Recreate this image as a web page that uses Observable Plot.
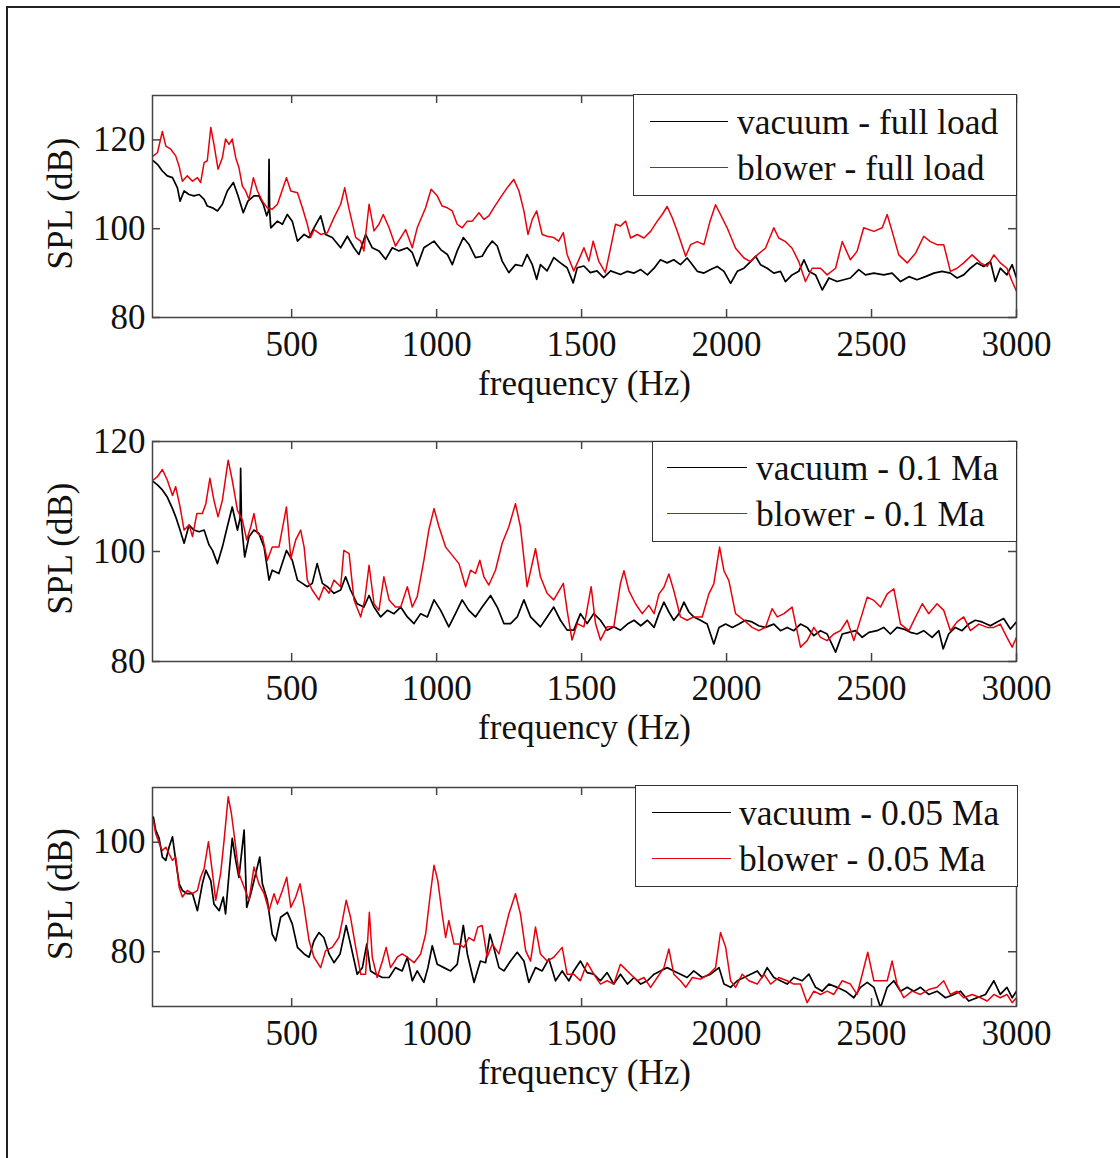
<!DOCTYPE html>
<html>
<head>
<meta charset="utf-8">
<script src="https://cdn.jsdelivr.net/npm/d3@7"></script>
<script src="https://cdn.jsdelivr.net/npm/@observablehq/plot@0.6"></script>
<style>
  html, body { margin: 0; padding: 0; background: #fff; }
  #fig { position: relative; width: 1120px; height: 1158px; overflow: hidden; background: #fff;
         font-family: "Liberation Serif", "Times New Roman", serif; }
  #border { position: absolute; left: 6px; top: 6px; width: 1200px; height: 1300px;
            border-left: 2.5px solid #222; border-top: 2.5px solid #222; }
  .panel { position: absolute; left: 0; }
  .legend { position: absolute; background: #fff; border: 1.5px solid #333; box-sizing: border-box; }
  .legend .ln { position: absolute; height: 0; border-top: 1.5px solid #000; }
  .legend .tx { position: absolute; font-size: 35.5px; line-height: 36px; white-space: pre; color: #111; }
</style>
</head>
<body>
<div id="fig"><div id="border"></div></div>
<script>
// ---------- data (frequency Hz, SPL dB) ----------
const xTicks = [500, 1000, 1500, 2000, 2500, 3000];
const xLabel = "frequency (Hz)";
const yLabel = "SPL (dB)";

// Panel 1 : full load
const p1Ticks = [80, 100, 120];
const p1Labels = ["vacuum - full load", "blower - full load"];
const vacuumFull = [[23,115.3],[37,114.5],[54,113],[71,111.9],[89,111.5],[106,109.2],[115,106.2],[129,108.5],[146,107.7],[163,107.4],[181,107.7],[198,106.6],[209,105.1],[227,104.7],[244,104],[261,105.5],[278,108.5],[299,110.4],[315,107.4],[333,103.6],[349,106.2],[370,107.4],[387,107.4],[402,105.5],[414,102.9],[420,104],[422,115.6],[424,104],[428,100.2],[451,101.7],[468,101],[485,103.2],[502,101.7],[520,97.2],[543,98.7],[560,98],[577,100.2],[600,102.9],[617,98.7],[640,98],[669,95.7],[692,98.3],[715,95.7],[732,94.2],[755,98.7],[778,95.7],[801,95],[824,93.1],[847,95.7],[870,95],[899,95.7],[916,94.6],[933,91.6],[956,95.7],[991,97.2],[1014,95.3],[1037,94.2],[1054,91.9],[1071,95],[1092,98],[1111,96.5],[1134,93.5],[1157,93.8],[1174,95.7],[1192,97.2],[1209,96.1],[1226,92.7],[1249,90.1],[1272,91.9],[1295,91.6],[1312,94.2],[1330,91.9],[1345,88.6],[1358,91.9],[1381,90.5],[1404,93.5],[1427,92.3],[1450,91.2],[1471,87.8],[1485,91.2],[1508,91.6],[1530,90.1],[1553,90.5],[1576,89],[1600,90.5],[1634,89.7],[1658,90.4],[1681,90],[1704,90.8],[1727,89.6],[1750,91.1],[1772,93],[1795,92.3],[1818,93],[1841,91.9],[1864,93.4],[1882,91.9],[1899,90.4],[1922,90],[1945,90.8],[1968,91.5],[1991,90.4],[2014,87.7],[2037,90.4],[2060,91.1],[2083,92.6],[2100,93.8],[2117,91.9],[2140,91.1],[2163,90],[2186,90.4],[2203,88.1],[2226,89.6],[2249,90.4],[2267,93],[2284,90.4],[2307,89.6],[2330,86.2],[2353,88.9],[2381,88.1],[2404,88.5],[2427,88.9],[2456,90.8],[2479,89.6],[2508,90],[2542,89.6],[2571,90],[2600,88.1],[2629,89.2],[2657,88.5],[2686,89.2],[2715,90],[2743,90.4],[2772,90],[2795,88.9],[2818,89.6],[2841,91.1],[2864,92.3],[2887,91.5],[2910,92.6],[2927,88.1],[2944,91.1],[2967,89.6],[2985,91.9],[3000,88.9]];
const blowerFull = [[23,116.4],[37,117.1],[54,121.9],[66,118.6],[83,117.9],[100,116.4],[112,114],[123,110.7],[140,111.9],[158,110.7],[175,111.5],[186,110.4],[198,114.9],[209,115.3],[221,122.8],[232,119],[246,113.4],[261,116],[272,120.2],[284,119],[295,120.2],[307,116],[318,113.8],[330,109.6],[341,108.5],[353,106.6],[368,111.5],[382,108.5],[399,106.2],[416,104.7],[433,104.4],[451,105.5],[482,111.5],[497,108.5],[520,108.1],[537,104.7],[554,101],[565,98],[577,99.8],[600,98.7],[623,99.1],[646,102.5],[669,105.5],[683,109.2],[698,104.4],[721,98],[738,97.2],[749,95],[767,105.5],[784,99.5],[801,101],[816,103.2],[836,100.2],[858,96.1],[876,98],[893,99.8],[916,95.7],[933,100.2],[962,104.7],[981,108.9],[1002,107.4],[1019,105.1],[1037,104.7],[1054,104],[1071,101],[1088,100.2],[1106,101.7],[1123,101.7],[1146,103.6],[1163,102.1],[1180,102.9],[1197,104.7],[1220,107],[1243,109.2],[1266,111.1],[1284,108.5],[1301,104],[1315,98.7],[1330,102.1],[1345,104],[1364,98.7],[1381,98.3],[1404,98],[1421,97.2],[1437,99.1],[1450,94.2],[1473,90.5],[1491,93.1],[1508,95.7],[1525,92.7],[1540,97.2],[1559,92.7],[1582,90.1],[1600,95.7],[1617,101],[1634,100.6],[1652,101.7],[1669,97.9],[1692,98.7],[1715,97.9],[1738,99.4],[1761,101.7],[1778,103.2],[1795,105],[1813,102.4],[1830,99.4],[1859,93.8],[1876,96.4],[1899,97.1],[1922,96.4],[1943,101.7],[1962,105.4],[1979,103.2],[2002,100.2],[2031,95.6],[2060,93.4],[2083,92.6],[2106,94.1],[2134,95.6],[2163,100.2],[2180,97.9],[2203,97.1],[2226,95.6],[2249,92.6],[2272,88.1],[2295,91.1],[2324,91.1],[2347,89.6],[2376,91.1],[2399,97.1],[2427,93],[2450,94.9],[2473,100.2],[2508,99.4],[2537,100.2],[2554,103.2],[2571,99.4],[2594,94.1],[2623,92.3],[2652,94.5],[2680,98.3],[2703,97.1],[2726,96.4],[2749,96.4],[2772,90.4],[2795,91.1],[2818,92.3],[2847,94.1],[2876,92.3],[2899,91.5],[2922,94.1],[2944,92.3],[2967,91.1],[2985,88.1],[3000,85.9]];

// Panel 2 : 0.1 Ma
const p2Ticks = [80, 100, 120];
const p2Labels = ["vacuum - 0.1 Ma", "blower - 0.1 Ma"];
const vacuum01 = [[23,112.7],[37,112.1],[54,111.2],[71,109.9],[89,107.8],[100,106.3],[115,103.9],[129,101.5],[146,104.8],[163,103.9],[181,103.6],[198,103.9],[215,101.2],[227,100.2],[244,97.8],[261,100.8],[278,104.5],[295,108.1],[313,103.9],[322,106],[324,115.1],[327,105],[338,99],[353,102.7],[370,103.9],[387,103.3],[405,100.8],[422,94.8],[433,96.6],[456,96],[482,100.2],[502,98.4],[520,94.8],[537,94.2],[554,93.6],[571,94.2],[588,97.8],[606,94.2],[623,93.6],[646,92.4],[669,93],[686,95.4],[703,93],[726,90.5],[749,89.9],[767,92],[784,89.9],[807,88.1],[830,89.3],[853,88.7],[876,89.9],[899,88.1],[922,86.9],[945,88.7],[968,88.1],[991,91.2],[1014,89.3],[1042,86.3],[1065,88.7],[1088,91.2],[1111,89.3],[1134,88.1],[1157,89.9],[1186,92],[1209,89.9],[1232,86.9],[1255,86.9],[1278,88.1],[1301,91.2],[1324,88.1],[1358,86.3],[1381,88.1],[1404,89.9],[1427,87.5],[1450,85.7],[1473,85.7],[1496,88.7],[1519,86.9],[1542,88.7],[1565,87.5],[1588,85.7],[1611,86.3],[1634,85.7],[1658,86.8],[1681,87.5],[1704,86.5],[1727,87.5],[1750,86.2],[1767,88.7],[1784,90.8],[1801,89],[1818,87.5],[1836,88.7],[1853,90.8],[1870,89],[1887,88.1],[1910,87.5],[1933,86.8],[1956,83.2],[1974,86.2],[1997,86.8],[2020,86.2],[2043,86.8],[2065,87.5],[2088,87.2],[2111,86.5],[2134,86.2],[2163,86.8],[2186,85.6],[2209,86.2],[2232,85.6],[2255,86.8],[2278,86.2],[2301,84.7],[2324,85.6],[2347,85],[2376,81.7],[2399,85],[2422,85.3],[2445,85.6],[2468,84.4],[2491,85.3],[2519,85.6],[2542,86.2],[2565,85],[2588,86.2],[2611,85.9],[2634,85.3],[2657,85],[2680,85.6],[2709,84.4],[2732,85.6],[2747,82.3],[2766,85],[2789,86.2],[2812,85.6],[2835,86.8],[2858,87.5],[2881,87.2],[2910,86.5],[2933,87.2],[2956,87.8],[2979,85.9],[3000,87.2]];
const blower01 = [[23,113],[37,113.6],[54,114.9],[71,113],[89,110.2],[100,111.8],[115,108.1],[129,103.9],[146,104.8],[158,102.7],[173,106.9],[192,106.9],[204,108.7],[218,113.3],[232,109.3],[246,106.3],[261,109.3],[281,116.6],[295,113],[313,107.5],[330,105.7],[345,102.1],[359,104.5],[370,106.9],[382,103.3],[399,102.7],[416,98.4],[433,100.8],[456,100.8],[482,108.1],[497,98.7],[514,102.1],[531,103.9],[543,100.8],[554,94.8],[571,93],[594,91.2],[611,93.6],[629,92.4],[646,94.8],[669,93.6],[680,100.2],[698,99.6],[715,91.2],[738,88.1],[752,91.2],[767,97.5],[784,90.5],[801,89.3],[818,95.4],[836,91.2],[858,89.9],[876,89.9],[899,93.6],[916,89.9],[933,91.8],[956,98.4],[973,103.9],[991,107.8],[1008,104.5],[1031,100.8],[1054,99.3],[1077,97.8],[1100,93.6],[1117,96.6],[1134,96],[1149,98.4],[1163,95.4],[1180,93.9],[1203,96.6],[1226,101.5],[1249,104.5],[1272,108.7],[1289,104.5],[1312,93.6],[1341,100.5],[1358,95.4],[1381,92.4],[1404,91.2],[1437,94.2],[1450,89.3],[1467,83.9],[1485,86.9],[1508,86.3],[1533,93.6],[1548,86.9],[1565,83.9],[1588,86.3],[1611,86.3],[1634,94.2],[1646,96.5],[1663,92.9],[1686,90.5],[1709,88.7],[1732,90.2],[1750,88.7],[1767,92.3],[1784,93.5],[1801,95.9],[1818,92.9],[1841,88.1],[1864,87.5],[1887,88.1],[1916,88.1],[1939,92.3],[1956,94.1],[1976,100.8],[1991,96.5],[2008,94.7],[2031,88.7],[2060,87.5],[2088,86.2],[2111,85.6],[2134,86.2],[2157,89.6],[2175,88.1],[2198,88.7],[2226,89.9],[2255,82.6],[2278,83.8],[2301,86.2],[2324,84.4],[2347,83.8],[2370,85],[2393,85.6],[2416,87.5],[2439,83.8],[2468,88.7],[2485,91.7],[2508,91.1],[2531,89.9],[2554,92.3],[2577,93.2],[2600,86.8],[2629,85.6],[2652,88.1],[2675,90.5],[2697,88.7],[2726,90.5],[2749,89.3],[2772,85.6],[2795,87.2],[2818,88.1],[2841,85.6],[2870,86.8],[2899,86.2],[2922,86.2],[2944,86.8],[2967,84.4],[2985,82.6],[3000,84.4]];

// Panel 3 : 0.05 Ma
const p3Ticks = [80, 100];
const p3Labels = ["vacuum - 0.05 Ma", "blower - 0.05 Ma"];
const vacuum005 = [[23,104.6],[31,102.2],[43,100.7],[54,97.3],[66,96.7],[77,99.1],[89,101],[100,96.7],[112,92.4],[123,91.2],[140,90.6],[158,90.6],[175,87.5],[192,92.4],[204,94.9],[221,93],[232,88.7],[250,87.5],[264,90],[272,86.9],[284,94.3],[295,100.7],[307,96.7],[318,93.6],[336,102.2],[345,88.1],[359,90.6],[376,94.3],[390,97.3],[399,92.4],[416,89.4],[433,83.2],[445,82],[462,86.3],[485,87.2],[502,85.1],[520,80.8],[543,79.6],[560,79],[577,82],[594,83.5],[611,82.6],[629,79.6],[646,78],[667,79.6],[688,84.8],[703,81.4],[726,75.9],[744,77.1],[759,81.4],[772,76.5],[790,75.9],[813,75.3],[836,75.3],[858,77.1],[881,76.5],[899,79],[916,74.7],[933,76.5],[956,74.4],[970,77.1],[985,81.1],[1002,77.7],[1025,77.1],[1048,76.5],[1071,77.7],[1092,84.8],[1106,79.6],[1129,74.4],[1151,78.3],[1169,78],[1184,83.2],[1197,80.8],[1215,77.1],[1232,76.5],[1255,78.3],[1278,79.9],[1301,78.3],[1318,74.4],[1341,77.1],[1364,76.5],[1387,78.7],[1410,74.7],[1433,76.5],[1456,74.7],[1473,76.5],[1496,78.3],[1519,76.2],[1542,75.9],[1565,74.7],[1588,76.2],[1611,74.1],[1634,75.9],[1658,74.1],[1681,75.3],[1704,74.1],[1727,74.7],[1750,75.9],[1772,76.5],[1795,77.1],[1818,76.5],[1841,75.9],[1864,75.3],[1887,76.5],[1916,75.3],[1945,75.9],[1974,77.1],[1991,74.1],[2014,73.5],[2037,74.7],[2060,75.3],[2083,75.9],[2106,76.5],[2123,75.3],[2140,77.1],[2163,75.3],[2186,74.7],[2209,74.1],[2232,75.3],[2261,74.7],[2284,75.9],[2307,73.5],[2330,72.8],[2353,74.1],[2381,73.5],[2410,72.8],[2439,71.6],[2462,73.5],[2485,74.4],[2508,73.5],[2531,69.8],[2554,73.5],[2577,74.7],[2600,72.8],[2623,73.5],[2646,72.8],[2669,73.5],[2697,72.2],[2726,72.8],[2755,71.6],[2784,72.2],[2807,72.8],[2835,71],[2864,71.6],[2893,72.2],[2922,74.7],[2944,72.2],[2967,73.5],[2985,71.6],[3000,72.8]];
const blower005 = [[23,104],[31,101.6],[43,99.8],[54,98.5],[66,99.1],[77,97.9],[89,96.7],[100,97.3],[112,91.8],[123,90],[140,91.2],[158,90.6],[175,91.2],[186,93.6],[198,95.2],[213,100.1],[227,94.3],[238,89.4],[255,94.3],[267,100.4],[281,108.3],[292,105.3],[304,100.4],[318,94.3],[336,91.8],[353,89.4],[370,95.5],[387,92.4],[405,90.6],[422,87.5],[439,90.6],[451,88.7],[468,91.2],[483,93.6],[497,88.1],[514,90],[529,92.4],[543,88.1],[560,82],[577,79],[600,77.1],[617,80.2],[640,80.8],[663,82.6],[675,85.7],[688,89.4],[703,86.3],[721,80.8],[738,75.9],[755,75.9],[768,87.2],[778,79],[795,75.3],[813,78.3],[826,80.8],[841,77.1],[864,79],[881,79.6],[899,79],[922,78],[945,79.6],[962,83.2],[977,90],[991,95.8],[1004,93],[1019,86.9],[1031,82.6],[1042,85.7],[1060,81.4],[1077,81.4],[1094,80.8],[1111,82.6],[1129,82],[1142,84.5],[1157,84.8],[1174,79],[1192,81.4],[1215,79.6],[1232,83.2],[1249,86.9],[1272,90.6],[1289,86.9],[1307,80.2],[1324,78.3],[1341,84.5],[1358,79.6],[1381,78.3],[1404,79],[1433,80.8],[1450,75.9],[1473,75.9],[1496,74.7],[1519,78],[1542,75.9],[1565,74.1],[1588,74.7],[1611,74.1],[1634,77.7],[1646,77.1],[1669,75.9],[1692,74.7],[1715,75.3],[1738,73.5],[1761,75.3],[1784,77.1],[1801,80.5],[1818,75.9],[1841,74.7],[1859,73.5],[1882,75.3],[1910,75],[1939,75.9],[1962,77.1],[1979,83.5],[1997,80.8],[2014,74.7],[2031,73.5],[2054,75.9],[2077,74.7],[2106,74.1],[2129,75.9],[2152,74.1],[2180,75.3],[2209,74.7],[2232,74.1],[2255,74.1],[2278,70.7],[2301,72.8],[2324,72.2],[2347,72.8],[2370,72.2],[2399,74.7],[2427,74.1],[2450,72.2],[2468,75.9],[2487,79.9],[2508,74.7],[2531,74.7],[2554,74.7],[2571,78.3],[2588,74.1],[2611,71.6],[2640,72.8],[2669,72.2],[2697,73.1],[2726,73.5],[2749,74.7],[2772,72.2],[2795,72.8],[2818,71.6],[2847,72.2],[2876,71.6],[2899,71],[2922,72.2],[2944,71.6],[2967,72.2],[2985,70.7],[3000,71.6]];

// ---------- drawing ----------
const FONT = "Liberation Serif, Times New Roman, serif";
const FS = 35;
const W = 1120, ML = 152, MR = 104, TICK = 8;

function panel(cfg) {
  const plotH = cfg.height - cfg.mt - cfg.mb;
  const plotW = W - ML - MR;
  const chart = Plot.plot({
    width: W, height: cfg.height,
    marginLeft: ML, marginRight: MR, marginTop: cfg.mt, marginBottom: cfg.mb,
    style: {fontFamily: FONT, color: "#111", background: "transparent"},
    x: {domain: [20, 3000]},
    y: {domain: cfg.yDomain},
    marks: [
      Plot.line(cfg.vacuum, {x: d => d[0], y: d => d[1], stroke: "#000", strokeWidth: 1.7, clip: true}),
      Plot.line(cfg.blower, {x: d => d[0], y: d => d[1], stroke: "#e8000b", strokeWidth: 1.5, clip: true}),
      Plot.frame({stroke: "#444", strokeWidth: 1.5}),
      Plot.tickX(xTicks, {x: d => d, insetTop: plotH - TICK, stroke: "#444", strokeWidth: 1.5}),
      Plot.tickX(xTicks, {x: d => d, insetBottom: plotH - TICK, stroke: "#444", strokeWidth: 1.5}),
      Plot.tickY(cfg.yTicks, {y: d => d, insetRight: plotW - TICK, stroke: "#444", strokeWidth: 1.5}),
      Plot.tickY(cfg.yTicks, {y: d => d, insetLeft: plotW - TICK, stroke: "#444", strokeWidth: 1.5}),
      Plot.axisX(xTicks, {anchor: "bottom", tickSize: 0, tickPadding: 14, fontSize: FS, label: null, tickFormat: d => String(d)}),
      Plot.axisY(cfg.yTicks, {anchor: "left", tickSize: 0, tickPadding: 7, fontSize: FS, label: null, tickFormat: d => String(d)}),
      Plot.text([xLabel], {frameAnchor: "bottom", textAnchor: "middle", dy: 66, lineAnchor: "middle", fontSize: FS, fill: "#111"}),
      Plot.text([yLabel], {frameAnchor: "left", textAnchor: "middle", dx: -92, dy: -3, rotate: -90, lineAnchor: "middle", fontSize: FS, fill: "#111"})
    ]
  });
  const holder = document.createElement("div");
  holder.className = "panel";
  holder.style.top = cfg.top + "px";
  holder.appendChild(chart);
  fig.appendChild(holder);

  const lg = cfg.legend;
  const box = document.createElement("div");
  box.className = "legend";
  box.style.left = lg.x + "px"; box.style.top = lg.y + "px";
  box.style.width = lg.w + "px"; box.style.height = lg.h + "px";
  [[cfg.labels[0], "#000", lg.r1], [cfg.labels[1], "#e8000b", lg.r2]].forEach(([t, c, ry]) => {
    const ln = document.createElement("div");
    ln.className = "ln";
    ln.style.left = lg.lx + "px"; ln.style.width = lg.lw + "px";
    ln.style.top = (ry - 1) + "px"; ln.style.borderTopColor = c;
    box.appendChild(ln);
    const tx = document.createElement("div");
    tx.className = "tx";
    tx.style.left = lg.tx + "px"; tx.style.top = (ry - 18) + "px";
    tx.textContent = t;
    box.appendChild(tx);
  });
  fig.appendChild(box);
}

const fig = document.getElementById("fig");
panel({top: 40, height: 380, mt: 55, mb: 103, yDomain: [80, 130], yTicks: p1Ticks,
       vacuum: vacuumFull, blower: blowerFull, labels: p1Labels,
       legend: {x: 633, y: 94, w: 384, h: 102, lx: 16, lw: 78, tx: 103, r1: 27, r2: 73}});
panel({top: 420, height: 345, mt: 21, mb: 104, yDomain: [80, 120], yTicks: p2Ticks,
       vacuum: vacuum01, blower: blower01, labels: p2Labels,
       legend: {x: 652, y: 441, w: 365, h: 101, lx: 14, lw: 80, tx: 103, r1: 26, r2: 72}});
panel({top: 765, height: 380, mt: 22, mb: 139, yDomain: [70, 110], yTicks: p3Ticks,
       vacuum: vacuum005, blower: blower005, labels: p3Labels,
       legend: {x: 635, y: 785, w: 383, h: 102, lx: 16, lw: 79, tx: 103, r1: 27, r2: 73}});
</script>
</body>
</html>
